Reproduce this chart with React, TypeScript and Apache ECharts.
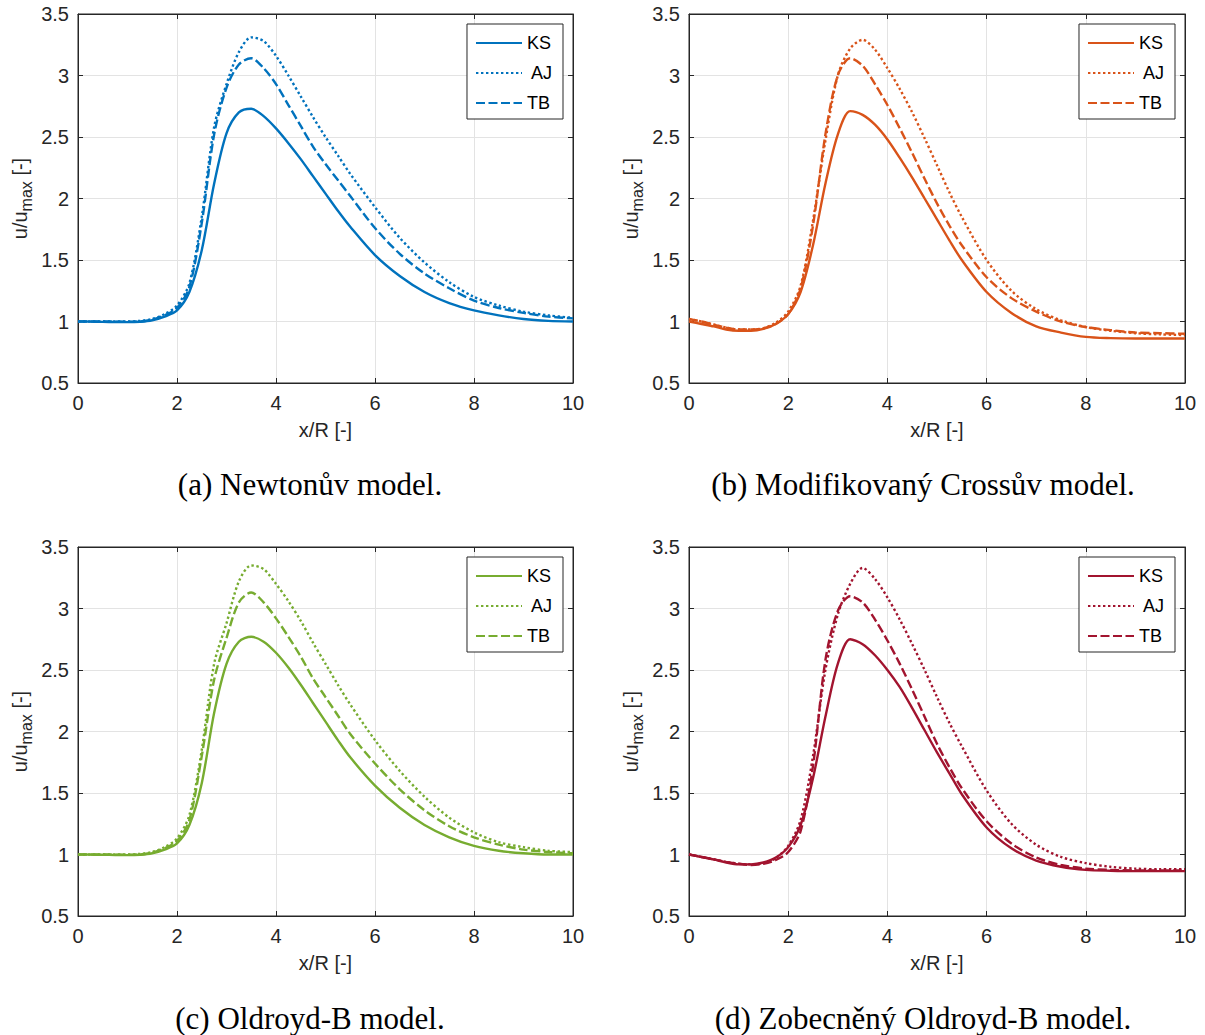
import React, { useEffect, useRef } from "react";
import * as echarts from "echarts";

// Axial position x/R (shared sampling for every profile)
const X = [
  0, 0.25, 0.5, 0.75, 1, 1.25, 1.5, 1.75, 2, 2.25, 2.5, 2.75, 3, 3.25, 3.5, 3.75,
  4, 4.25, 4.5, 4.75, 5, 5.25, 5.5, 6, 6.5, 7, 7.5, 8, 8.5, 9, 9.5, 10,
];

// (a) Newtonian model
const KS_A = [1.0, 0.999, 0.997, 0.996, 0.995, 0.998, 1.01, 1.04, 1.09, 1.24, 1.58, 2.12, 2.53, 2.70, 2.73, 2.67, 2.57, 2.45, 2.32, 2.18, 2.04, 1.90, 1.77, 1.54, 1.37, 1.24, 1.15, 1.09, 1.05, 1.02, 1.005, 1.0];
const AJ_A = [1.0, 1.0, 1.0, 1.0, 1.0, 1.005, 1.02, 1.06, 1.13, 1.31, 1.85, 2.58, 2.93, 3.19, 3.31, 3.28, 3.16, 3.0, 2.83, 2.66, 2.50, 2.35, 2.20, 1.93, 1.68, 1.48, 1.32, 1.20, 1.13, 1.08, 1.05, 1.03];
const TB_A = [1.0, 1.0, 1.0, 0.999, 0.998, 1.0, 1.015, 1.05, 1.11, 1.28, 1.80, 2.52, 2.90, 3.09, 3.14, 3.06, 2.93, 2.76, 2.59, 2.42, 2.28, 2.15, 2.02, 1.76, 1.55, 1.39, 1.27, 1.17, 1.11, 1.07, 1.04, 1.025];

// (b) Modified Cross model
const KS_B = [1.0, 0.98, 0.96, 0.935, 0.925, 0.925, 0.94, 0.98, 1.06, 1.24, 1.62, 2.12, 2.52, 2.71, 2.68, 2.60, 2.48, 2.33, 2.17, 2.0, 1.83, 1.66, 1.50, 1.24, 1.07, 0.96, 0.91, 0.875, 0.865, 0.862, 0.862, 0.862];
const AJ_B = [1.02, 1.0, 0.975, 0.95, 0.935, 0.935, 0.945, 0.99, 1.08, 1.29, 1.82, 2.47, 3.0, 3.22, 3.29, 3.21, 3.06, 2.89, 2.70, 2.49, 2.27, 2.05, 1.85, 1.50, 1.25, 1.1, 1.01, 0.955, 0.925, 0.905, 0.895, 0.89];
const TB_B = [1.02, 1.0, 0.975, 0.95, 0.935, 0.935, 0.945, 0.98, 1.06, 1.27, 1.78, 2.52, 3.0, 3.14, 3.08, 2.93, 2.76, 2.57, 2.37, 2.16, 1.96, 1.78, 1.62, 1.36, 1.19, 1.08, 1.0, 0.955, 0.93, 0.91, 0.905, 0.9];

// (c) Oldroyd-B model
const KS_C = [1.0, 0.999, 0.998, 0.996, 0.995, 0.998, 1.01, 1.04, 1.09, 1.24, 1.58, 2.15, 2.55, 2.73, 2.77, 2.73, 2.64, 2.52, 2.38, 2.23, 2.08, 1.93, 1.79, 1.56, 1.38, 1.24, 1.14, 1.07, 1.03, 1.01, 1.0, 1.0];
const AJ_C = [1.0, 1.0, 1.0, 1.0, 1.0, 1.005, 1.02, 1.06, 1.13, 1.32, 1.85, 2.55, 2.88, 3.22, 3.35, 3.32, 3.2, 3.06, 2.90, 2.72, 2.55, 2.38, 2.22, 1.93, 1.68, 1.47, 1.30, 1.18, 1.10, 1.06, 1.03, 1.02];
const TB_C = [1.0, 1.0, 1.0, 0.999, 0.998, 1.0, 1.015, 1.05, 1.11, 1.28, 1.80, 2.42, 2.76, 3.05, 3.13, 3.05, 2.92, 2.77, 2.61, 2.43, 2.28, 2.13, 1.98, 1.74, 1.53, 1.36, 1.23, 1.14, 1.08, 1.04, 1.02, 1.01];

// (d) Generalised Oldroyd-B model
const KS_D = [1.0, 0.98, 0.96, 0.935, 0.92, 0.92, 0.935, 0.975, 1.06, 1.24, 1.62, 2.12, 2.55, 2.75, 2.71, 2.62, 2.50, 2.36, 2.19, 2.01, 1.83, 1.66, 1.49, 1.22, 1.05, 0.95, 0.9, 0.875, 0.868, 0.865, 0.865, 0.865];
const AJ_D = [1.0, 0.98, 0.96, 0.94, 0.925, 0.92, 0.93, 0.97, 1.07, 1.28, 1.80, 2.50, 2.95, 3.20, 3.33, 3.24, 3.09, 2.91, 2.71, 2.50, 2.28, 2.07, 1.88, 1.52, 1.25, 1.08, 0.98, 0.93, 0.9, 0.885, 0.88, 0.88];
const TB_D = [1.0, 0.98, 0.96, 0.94, 0.925, 0.915, 0.925, 0.955, 1.02, 1.19, 1.72, 2.58, 2.98, 3.10, 3.05, 2.91, 2.74, 2.55, 2.34, 2.12, 1.90, 1.71, 1.54, 1.27, 1.09, 0.975, 0.915, 0.885, 0.875, 0.87, 0.87, 0.87];

const SERIES_NAMES = ["KS", "AJ", "TB"];
const X_RANGE = { min: 0, max: 10, interval: 2 };
const Y_RANGE = { min: 0.5, max: 3.5, interval: 0.5 };

const PANELS = [
  { id: "a", caption: "(a) Newtonův model.", color: "#0072BD", data: [KS_A, AJ_A, TB_A] },
  { id: "b", caption: "(b) Modifikovaný Crossův model.", color: "#D95319", data: [KS_B, AJ_B, TB_B] },
  { id: "c", caption: "(c) Oldroyd-B model.", color: "#77AC30", data: [KS_C, AJ_C, TB_C] },
  { id: "d", caption: "(d) Zobecněný Oldroyd-B model.", color: "#A2142F", data: [KS_D, AJ_D, TB_D] },
];

// Plot-area placement of each panel (pixels)
const LAYOUT = [
  { left: 78, top: 14, width: 495, height: 369, captionX: 310, captionY: 484 },
  { left: 689, top: 14, width: 496, height: 369, captionX: 923, captionY: 484 },
  { left: 78, top: 547, width: 495, height: 369, captionX: 310, captionY: 1018 },
  { left: 689, top: 547, width: 496, height: 369, captionX: 923, captionY: 1018 },
];

const W = 1205;
const H = 1035;
const SANS = '"Liberation Sans", Arial, Helvetica, sans-serif';
const SERIF = '"Liberation Serif", "DejaVu Serif", serif';
const AXIS_COLOR = "#262626";
const GRID_COLOR = "#e3e3e3";
const LINE_WIDTH = 2.4;
const LINE_TYPES: any[] = ["solid", [2.4, 2.6], [9, 3.5]];

function buildOption() {
  const grid: any[] = [];
  const xAxis: any[] = [];
  const yAxis: any[] = [];
  const series: any[] = [];
  const legend: any[] = [];
  const graphic: any[] = [];

  PANELS.forEach((p, i) => {
    const L = LAYOUT[i];
    grid.push({
      left: L.left,
      top: L.top,
      width: L.width,
      height: L.height,
      show: true,
      backgroundColor: "#fff",
      borderColor: AXIS_COLOR,
      borderWidth: 1,
    });

    const tick = { show: true, inside: true, length: 5, lineStyle: { color: AXIS_COLOR, width: 1 } };
    const line = { show: true, onZero: false, lineStyle: { color: AXIS_COLOR, width: 1 } };
    const label = { fontFamily: SANS, fontSize: 20, color: AXIS_COLOR };

    xAxis.push({
      gridIndex: i,
      type: "value",
      position: "bottom",
      ...X_RANGE,
      axisLine: line,
      axisTick: tick,
      axisLabel: { ...label, margin: 10 },
      splitLine: { show: true, lineStyle: { color: GRID_COLOR, width: 1 } },
      name: "x/R [-]",
      nameLocation: "middle",
      nameGap: 37,
      nameTextStyle: { fontFamily: SANS, fontSize: 20, color: AXIS_COLOR },
    });
    xAxis.push({
      gridIndex: i,
      type: "value",
      position: "top",
      ...X_RANGE,
      axisLine: line,
      axisTick: tick,
      axisLabel: { show: false },
      splitLine: { show: false },
    });
    yAxis.push({
      gridIndex: i,
      type: "value",
      position: "left",
      ...Y_RANGE,
      axisLine: line,
      axisTick: tick,
      axisLabel: { ...label, margin: 9 },
      splitLine: { show: true, lineStyle: { color: GRID_COLOR, width: 1 } },
      name: "{n|u/u}{s|max}{n| [-]}",
      nameLocation: "middle",
      nameGap: 44,
      nameTextStyle: {
        fontFamily: SANS,
        fontSize: 20,
        color: AXIS_COLOR,
        rich: {
          n: { fontFamily: SANS, fontSize: 20, color: AXIS_COLOR, lineHeight: 28 },
          s: { fontFamily: SANS, fontSize: 16, color: AXIS_COLOR, lineHeight: 16, verticalAlign: "bottom" },
        },
      },
    });
    yAxis.push({
      gridIndex: i,
      type: "value",
      position: "right",
      ...Y_RANGE,
      axisLine: line,
      axisTick: tick,
      axisLabel: { show: false },
      splitLine: { show: false },
    });

    const names: string[] = [];
    SERIES_NAMES.forEach((s, k) => {
      const name = `${s} ${p.id}`;
      names.push(name);
      series.push({
        type: "line",
        name,
        xAxisIndex: 2 * i,
        yAxisIndex: 2 * i,
        data: X.map((x, j) => [x, p.data[k][j]]),
        symbol: "none",
        showSymbol: false,
        smooth: 0.3,
        color: p.color,
        lineStyle: { color: p.color, width: LINE_WIDTH, type: LINE_TYPES[k], cap: "butt" },
        z: 3 + k,
      });
    });

    legend.push({
      data: names.map((n) =>
        n.startsWith("AJ") ? { name: n, textStyle: { padding: [0, 0, 0, 4] } } : n
      ),
      orient: "vertical",
      right: W - (L.left + L.width) + 10,
      top: L.top + 10,
      itemWidth: 46,
      itemHeight: 14,
      itemGap: 12,
      padding: [10, 11, 7, 8],
      backgroundColor: "#fff",
      borderColor: AXIS_COLOR,
      borderWidth: 1,
      borderRadius: 0,
      selectedMode: false,
      itemStyle: { color: "rgba(0,0,0,0)", borderWidth: 0, opacity: 0 },
      textStyle: { fontFamily: SANS, fontSize: 18, color: "#000" },
      formatter: (n: string) => n.split(" ")[0],
    });

    graphic.push({
      type: "text",
      x: L.captionX,
      y: L.captionY,
      style: {
        text: p.caption,
        font: `31px ${SERIF}`,
        fill: "#000",
        textAlign: "center",
        textVerticalAlign: "middle",
      },
    });
  });

  return {
    animation: false,
    backgroundColor: "#fff",
    grid,
    xAxis,
    yAxis,
    series,
    legend,
    graphic,
  };
}

export default function App() {
  const ref = useRef<HTMLDivElement>(null);
  useEffect(() => {
    if (!ref.current) return;
    const chart = echarts.init(ref.current, undefined, { renderer: "svg", width: W, height: H });
    chart.setOption(buildOption() as any);
    return () => chart.dispose();
  }, []);
  return (
    <div
      ref={ref}
      style={{ position: "absolute", left: 0, top: 0, width: W, height: H, background: "#fff" }}
    />
  );
}
